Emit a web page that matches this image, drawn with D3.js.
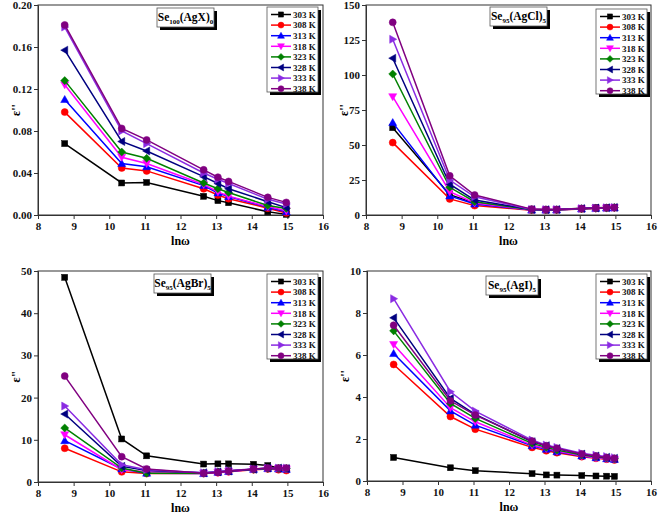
<!DOCTYPE html>
<html><head><meta charset="utf-8">
<script src="https://cdn.jsdelivr.net/npm/d3@7"></script>
<style>body{margin:0;background:#fff}svg{display:block}text{font-family:"Liberation Serif","Times New Roman",serif;font-weight:bold}</style>
</head><body>
<svg id="c" width="658" height="516"></svg>
<script>
const temps = ["303 K","308 K","313 K","318 K","323 K","328 K","333 K","338 K"];
const colors = ["#000000","#ff0000","#0000ff","#ff00ff","#008000","#000080","#8a2be2","#800080"];
const shapes = ["square","circle","triUp","triDown","diamond","triLeft","triRight","circle"];
const xTicks = [8,9,10,11,12,13,14,15,16];

const lnwAgX = [8.75, 10.35, 11.05, 12.65, 13.05, 13.35, 14.45, 14.97];
const lnw = [8.75, 10.35, 11.05, 12.65, 13.05, 13.35, 14.05, 14.45, 14.75, 14.97];

const agX = [
 [0.068, 0.0305, 0.031, 0.0178, 0.0137, 0.0117, 0.003, 0.0006],
 [0.098, 0.0448, 0.042, 0.025, 0.019, 0.0155, 0.0065, 0.002],
 [0.110, 0.049, 0.046, 0.028, 0.021, 0.0175, 0.0073, 0.003],
 [0.124, 0.055, 0.049, 0.029, 0.022, 0.018, 0.008, 0.004],
 [0.128, 0.060, 0.054, 0.0305, 0.025, 0.0215, 0.009, 0.0063],
 [0.157, 0.070, 0.061, 0.0365, 0.030, 0.025, 0.0127, 0.007],
 [0.179, 0.080, 0.068, 0.040, 0.034, 0.030, 0.015, 0.0105],
 [0.181, 0.0825, 0.0715, 0.043, 0.036, 0.032, 0.0168, 0.012]
];
const agCl = [
 [62.4, 14.5, 8.5, 4.0, 3.9, 4.0, 4.8, 5.2, 5.4, 5.6],
 [51.7, 11.5, 6.7, 3.4, 3.4, 3.5, 4.3, 4.7, 5.0, 5.1],
 [66.0, 13.6, 7.9, 3.5, 3.5, 3.6, 4.4, 4.8, 5.0, 5.2],
 [84.5, 16.7, 8.6, 3.6, 3.6, 3.7, 4.4, 4.8, 5.0, 5.2],
 [100.7, 19.8, 9.5, 3.8, 3.7, 3.8, 4.5, 4.9, 5.1, 5.3],
 [112.0, 22.0, 10.7, 3.9, 3.8, 3.9, 4.6, 5.0, 5.2, 5.4],
 [125.5, 25.0, 13.0, 4.0, 3.9, 4.0, 4.6, 5.0, 5.2, 5.4],
 [137.6, 28.0, 14.3, 4.2, 4.0, 4.0, 4.7, 5.0, 5.2, 5.3]
];
const agBr = [
 [48.5, 10.2, 6.2, 4.25, 4.3, 4.3, 4.2, 3.9, 3.3, 3.2],
 [8.0, 2.4, 2.0, 2.0, 2.2, 2.4, 2.9, 3.1, 2.9, 2.7],
 [9.8, 3.1, 2.1, 2.0, 2.3, 2.5, 3.0, 3.2, 3.1, 3.0],
 [11.2, 2.9, 2.4, 2.1, 2.3, 2.5, 3.0, 3.2, 3.2, 3.1],
 [12.8, 3.3, 2.1, 2.1, 2.4, 2.6, 3.0, 3.2, 3.2, 3.2],
 [16.1, 3.7, 2.7, 2.2, 2.4, 2.6, 3.0, 3.3, 3.3, 3.2],
 [18.0, 4.1, 2.9, 2.2, 2.5, 2.7, 3.1, 3.3, 3.3, 3.3],
 [25.1, 6.0, 3.1, 2.1, 2.3, 2.6, 3.1, 3.3, 3.3, 3.3]
];
const agI = [
 [1.12, 0.63, 0.49, 0.35, 0.29, 0.28, 0.26, 0.24, 0.23, 0.22],
 [5.55, 3.07, 2.47, 1.60, 1.44, 1.35, 1.16, 1.08, 1.04, 1.00],
 [6.07, 3.34, 2.66, 1.68, 1.51, 1.39, 1.19, 1.11, 1.06, 1.03],
 [6.50, 3.49, 2.82, 1.71, 1.55, 1.43, 1.20, 1.11, 1.07, 1.04],
 [7.15, 3.69, 2.98, 1.79, 1.60, 1.47, 1.24, 1.16, 1.10, 1.06],
 [7.77, 3.93, 3.17, 1.87, 1.68, 1.55, 1.28, 1.19, 1.13, 1.08],
 [8.68, 4.25, 3.33, 1.95, 1.71, 1.60, 1.32, 1.23, 1.16, 1.11],
 [7.42, 3.82, 3.14, 1.90, 1.68, 1.56, 1.29, 1.19, 1.12, 1.08]
];
const yTicksAgX = [0.00,0.04,0.08,0.12,0.16,0.20];
const yTicksAgCl = [0,25,50,75,100,125,150];
const yTicksAgBr = [0,10,20,30,40,50];
const yTicksAgI = [0,2,4,6,8,10];

const panels = [
 {x:lnwAgX, s:agX, yt:yTicksAgX, fmt:d3.format(".2f"), L:38,R:323,T:5,B:215, ylab:"ε''", xl:30,
  title:[["Se",""],["100","sub"],["(AgX)",""],["0","sub"]], tb:[157,8,57,19], lg:[267,7]},
 {x:lnw, s:agCl, yt:yTicksAgCl, fmt:d3.format("d"), L:366,R:651,T:5,B:215, ylab:"ε''", xl:30,
  title:[["Se",""],["95","sub"],["(AgCl)",""],["5","sub"]], tb:[490,7,57,19], lg:[596,9]},
 {x:lnw, s:agBr, yt:yTicksAgBr, fmt:d3.format("d"), L:38,R:323,T:271,B:482, ylab:"ε\"", xl:30,
  title:[["Se",""],["95","sub"],["(AgBr)",""],["5","sub"]], tb:[154,274,57,19], lg:[267,274]},
 {x:lnw, s:agI, yt:yTicksAgI, fmt:d3.format("d"), L:367,R:651,T:271,B:481, ylab:"ε''", xl:30,
  title:[["Se",""],["95","sub"],["(AgI)",""],["5","sub"]], tb:[486,276,52,19], lg:[596,274]}
];

const svg = d3.select("#c");

function marker(g, shape, cx, cy, r, color){
  let p;
  const t = r*1.15;
  switch(shape){
    case "square": p = g.append("rect").attr("x",cx-r*0.85).attr("y",cy-r*0.85).attr("width",r*1.7).attr("height",r*1.7); break;
    case "circle": p = g.append("circle").attr("cx",cx).attr("cy",cy).attr("r",r); break;
    case "triUp": p = g.append("path").attr("d",`M${cx},${cy-t}L${cx+t},${cy+t*0.75}L${cx-t},${cy+t*0.75}Z`); break;
    case "triDown": p = g.append("path").attr("d",`M${cx},${cy+t}L${cx+t},${cy-t*0.75}L${cx-t},${cy-t*0.75}Z`); break;
    case "triLeft": p = g.append("path").attr("d",`M${cx-t},${cy}L${cx+t*0.75},${cy-t}L${cx+t*0.75},${cy+t}Z`); break;
    case "triRight": p = g.append("path").attr("d",`M${cx+t},${cy}L${cx-t*0.75},${cy-t}L${cx-t*0.75},${cy+t}Z`); break;
    case "diamond": p = g.append("path").attr("d",`M${cx},${cy-t}L${cx+t},${cy}L${cx},${cy+t}L${cx-t},${cy}Z`); break;
  }
  p.attr("fill",color).attr("stroke",color).attr("stroke-width",0.5);
}

panels.forEach(P=>{
  const g = svg.append("g");
  const x = d3.scaleLinear().domain([8,16]).range([P.L,P.R]);
  const y = d3.scaleLinear().domain([P.yt[0],P.yt[P.yt.length-1]]).range([P.B,P.T]);
  g.append("rect").attr("x",P.L).attr("y",P.T).attr("width",P.R-P.L).attr("height",P.B-P.T)
    .attr("fill","#fff").attr("stroke","#333").attr("stroke-width",1);
  const xa = g.append("g").attr("transform",`translate(0,${P.B})`)
    .call(d3.axisBottom(x).tickValues(xTicks).tickFormat(d3.format("d")).tickSize(4).tickPadding(3));
  const ya = g.append("g").attr("transform",`translate(${P.L},0)`)
    .call(d3.axisLeft(y).tickValues(P.yt).tickFormat(P.fmt).tickSize(4).tickPadding(2));
  [xa,ya].forEach(a=>{
    a.select(".domain").attr("stroke","#333");
    a.selectAll(".tick line").attr("stroke","#333");
    a.selectAll("text").attr("font-size",11).attr("fill","#111")
      .attr("font-family","Liberation Serif, serif").attr("font-weight","bold");
  });
  g.append("text").attr("x",(P.L+P.R)/2).attr("y",P.B+P.xl).attr("text-anchor","middle")
    .attr("font-size",12).text("lnω");
  g.append("text").attr("transform",`translate(${P.L-18},${(P.T+P.B)/2}) rotate(-90)`)
    .attr("text-anchor","middle").attr("font-size",12).text(P.ylab);
  const line = d3.line().x((d,i)=>x(P.x[i])).y(d=>y(d));
  P.s.forEach((vals,k)=>{
    g.append("path").datum(vals).attr("d",line).attr("fill","none")
      .attr("stroke",colors[k]).attr("stroke-width",1.5);
    vals.forEach((v,i)=>marker(g,shapes[k],x(P.x[i]),y(v),3.5,colors[k]));
  });
  const [tx,ty,tw,th] = P.tb;
  g.append("rect").attr("x",tx+3).attr("y",ty+3).attr("width",tw).attr("height",th).attr("fill","#000");
  g.append("rect").attr("x",tx).attr("y",ty).attr("width",tw).attr("height",th).attr("fill","#fff")
    .attr("stroke","#555").attr("stroke-width",0.8);
  const tt = g.append("text").attr("x",tx+tw/2).attr("y",ty+13).attr("text-anchor","middle").attr("font-size",11.5);
  P.title.forEach(([s,kind],i)=>{
    const sp = tt.append("tspan").text(s);
    if(kind==="sub") sp.attr("font-size",7).attr("dy",3);
    else if(i>0) sp.attr("dy",-3);
  });
  const [lx,ly] = P.lg;
  const lw=51, lh=85;
  g.append("rect").attr("x",lx+3).attr("y",ly+3).attr("width",lw).attr("height",lh).attr("fill","#000");
  g.append("rect").attr("x",lx).attr("y",ly).attr("width",lw).attr("height",lh).attr("fill","#fff")
    .attr("stroke","#555").attr("stroke-width",0.8);
  temps.forEach((t,k)=>{
    const yy = ly+7.5+k*10.6;
    g.append("line").attr("x1",lx+4).attr("x2",lx+24).attr("y1",yy).attr("y2",yy)
      .attr("stroke",colors[k]).attr("stroke-width",1.5);
    marker(g,shapes[k],lx+14,yy,3,colors[k]);
    g.append("text").attr("x",lx+26).attr("y",yy+3.3).attr("font-size",9).attr("fill","#111").text(t);
  });
});
</script>
</body></html>
